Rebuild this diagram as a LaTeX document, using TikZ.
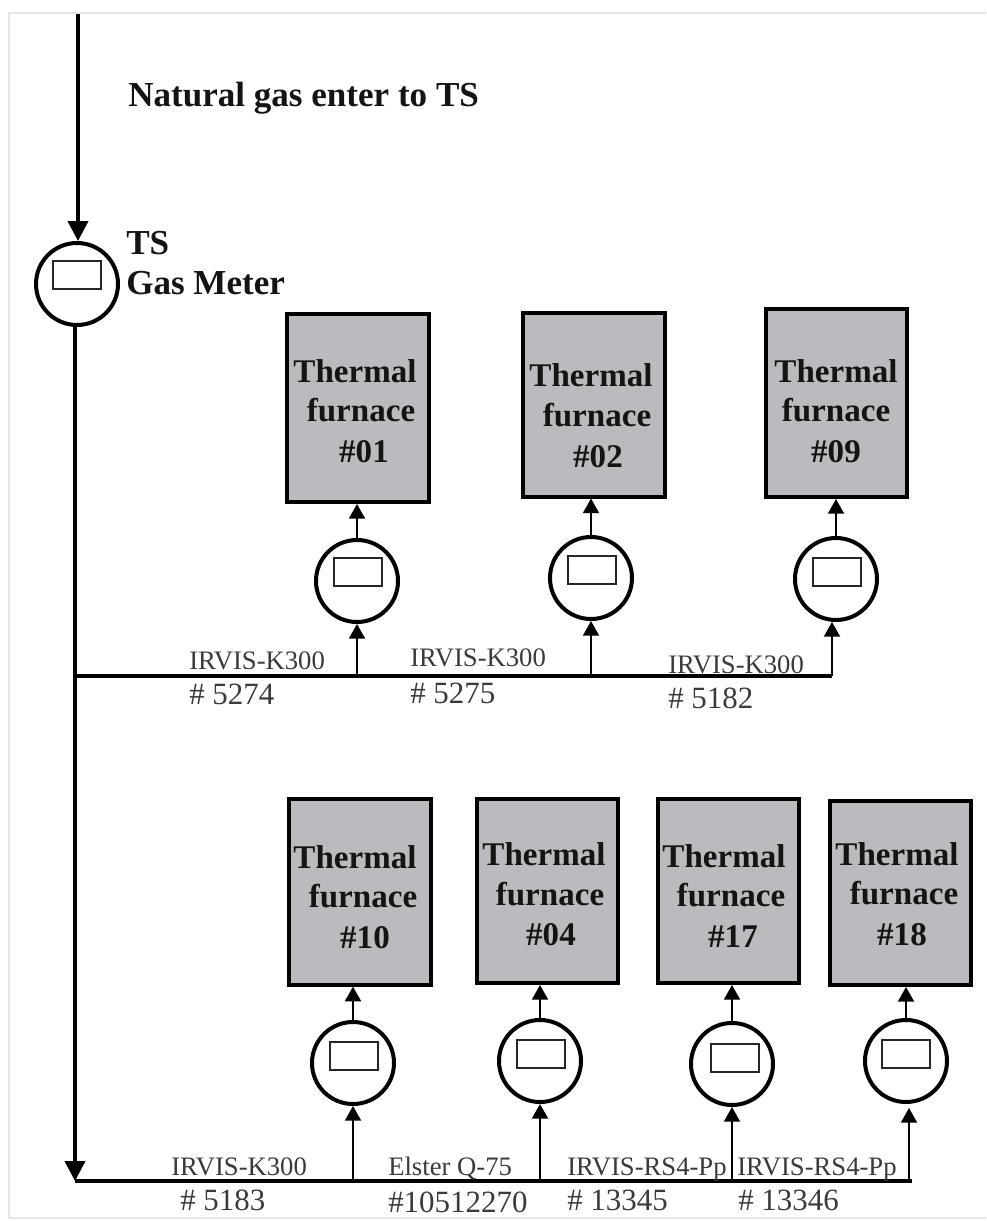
\documentclass[tikz,border=0pt]{standalone}
\usepackage{fontspec}
\setmainfont{Liberation Serif}
\usetikzlibrary{arrows.meta}
\definecolor{furngray}{HTML}{BBBBBF}
\definecolor{labgray}{HTML}{3A3A3A}
\tikzset{
  furnace/.style={draw=black,line width=3pt,fill=furngray,minimum width=106pt,minimum height=138pt,inner sep=0pt},
  meter/.style={draw=black,line width=3pt,fill=white,circle,minimum size=61.5pt,inner sep=0pt},
  dial/.style={draw=black!85,line width=1.5pt,fill=white,minimum width=36pt,minimum height=21pt,inner sep=0pt},
  boldbase/.style={font=\bfseries\fontsize{26.3}{28}\selectfont,text=black!92,inner sep=0pt,anchor=base west},
  ftxt/.style={font=\bfseries\fontsize{24.8}{28}\selectfont,text=black!92,inner sep=0pt,anchor=base},
  lab/.style={font=\fontsize{20}{22}\selectfont,text=labgray,inner sep=0pt,anchor=base west},
  numlab/.style={font=\fontsize{23.2}{25}\selectfont,text=labgray,inner sep=0pt,anchor=base west},
  mainpipe/.style={line width=3pt,draw=black},
  branch/.style={line width=1.5pt,draw=black,-{Triangle[length=11pt,width=12pt]}},
  mainarrow/.style={line width=3pt,draw=black,-{Triangle[length=15pt,width=15pt]}},
  frameline/.style={line width=1.5pt,draw=black!10}
}
\begin{document}
\begin{tikzpicture}[x=0.75pt,y=-0.75pt]
\useasboundingbox (0,0) rectangle (986,1221);
\coordinate (fa) at (986,13);
\coordinate (fb) at (9,13);
\coordinate (fc) at (9,1218);
\coordinate (fd) at (986,1218);
\draw[frameline] (fa) -- (fb) -- (fc) -- (fd);

% main meter
\node[meter] (M) at (77,284) {};
\node[dial] (Md) at (77,275) {};
\coordinate (in) at (78,14);
\draw[mainarrow] (in) -- (M.north -| in);
\node[boldbase] (t1) at (128,106) {Natural gas enter to TS};
\node[boldbase] (t2) at (126,254) {TS};
\node[boldbase] (t3) at (126,294) {Gas Meter};

% upper furnaces
\node[furnace,minimum height=141pt] (F01) at (358,408) {};
\node[furnace] (F02) at (594,404.5) {};
\node[furnace,minimum height=141pt] (F09) at (836.5,403) {};
\node[ftxt] (a1) at (355,382) {Thermal};
\node[ftxt] (a2) at (361,421) {furnace};
\node[ftxt] (a3) at (364,462) {\#01};
\node[ftxt] (b1) at (591,386) {Thermal};
\node[ftxt] (b2) at (597,426) {furnace};
\node[ftxt] (b3) at (598,467) {\#02};
\node[ftxt] (c1) at (836,382) {Thermal};
\node[ftxt] (c2) at (836,421) {furnace};
\node[ftxt] (c3) at (836,462) {\#09};

% lower furnaces
\node[furnace,minimum height=139pt] (F10) at (360,892) {};
\node[furnace] (F04) at (547.5,891) {};
\node[furnace] (F17) at (728.5,891) {};
\node[furnace] (F18) at (900.5,893) {};
\node[ftxt] (d1) at (355,868) {Thermal};
\node[ftxt] (d2) at (363,907) {furnace};
\node[ftxt] (d3) at (365,948) {\#10};
\node[ftxt] (e1) at (544,865) {Thermal};
\node[ftxt] (e2) at (550,905) {furnace};
\node[ftxt] (e3) at (551,945) {\#04};
\node[ftxt] (f1) at (724,867) {Thermal};
\node[ftxt] (f2) at (731,906) {furnace};
\node[ftxt] (f3) at (733,947) {\#17};
\node[ftxt] (g1) at (897,865) {Thermal};
\node[ftxt] (g2) at (904,904) {furnace};
\node[ftxt] (g3) at (902,945) {\#18};

% meters upper
\node[meter] (m01) at (357,581) {};
\node[dial] (d01) at (357.5,572) {};
\node[meter] (m02) at (591,578) {};
\node[dial] (d02) at (591.5,569.5) {};
\node[meter] (m09) at (836,579) {};
\node[dial] (d09) at (836.5,571.5) {};
% meters lower
\node[meter] (m10) at (353,1063) {};
\node[dial] (d10) at (353.5,1055.5) {};
\node[meter] (m04) at (540,1061) {};
\node[dial] (d04) at (540.5,1053.5) {};
\node[meter] (m17) at (732,1064) {};
\node[dial] (d17) at (734.5,1057.5) {};
\node[meter] (m18) at (906,1061) {};
\node[dial] (d18) at (905.5,1053.5) {};

% pipes
\coordinate (lo) at (75,1181);
\coordinate (up) at (75,676);
\coordinate (upend) at (832,676);
\coordinate (loend) at (912,1181);
\draw[mainarrow] (M.south -| lo) -- (lo);
\draw[mainpipe] (up) -- (upend);
\draw[mainpipe] (lo) -- (loend);

\coordinate (j01) at (357,676);
\coordinate (j02) at (591,676);
\coordinate (j10) at (353,1181);
\coordinate (j04) at (540,1181);
\coordinate (j17) at (732,1181);
\coordinate (j18) at (909,1181);
\draw[branch] (j01) -- (m01.south);
\draw[branch] (j02) -- (m02.south);
\draw[branch] (upend) -- (m09.south -| upend);
\draw[branch] (j10) -- (m10.south);
\draw[branch] (j04) -- (m04.south);
\draw[branch] (j17) -- (m17.south);
\draw[branch] (j18) -- ([yshift=-3pt]m18.south -| j18);
\draw[branch] (m01.north) -- (F01.south -| m01.north);
\draw[branch] (m02.north) -- (F02.south -| m02.north);
\draw[branch] (m09.north) -- (F09.south -| m09.north);
\draw[branch] (m10.north) -- (F10.south -| m10.north);
\draw[branch] (m04.north) -- (F04.south -| m04.north);
\draw[branch] (m17.north) -- (F17.south -| m17.north);
\draw[branch] (m18.north) -- (F18.south -| m18.north);

% labels
\node[lab] (l1) at (189,669) {IRVIS-K300};
\node[numlab] (l2) at (189,704) {\# 5274};
\node[lab] (l3) at (410,666) {IRVIS-K300};
\node[numlab] (l4) at (410,703) {\# 5275};
\node[lab] (l5) at (668,673) {IRVIS-K300};
\node[numlab] (l6) at (668,708) {\# 5182};
\node[lab] (l7) at (171,1175) {IRVIS-K300};
\node[numlab] (l8) at (180,1210) {\# 5183};
\node[lab] (l9) at (388,1175) {Elster Q-75};
\node[numlab] (l10) at (388,1212) {\#10512270};
\node[lab] (l11) at (567,1175) {IRVIS-RS4-Pp};
\node[numlab] (l12) at (567,1210) {\# 13345};
\node[lab] (l13) at (737,1175) {IRVIS-RS4-Pp};
\node[numlab] (l14) at (738,1210) {\# 13346};
\end{tikzpicture}
\end{document}
